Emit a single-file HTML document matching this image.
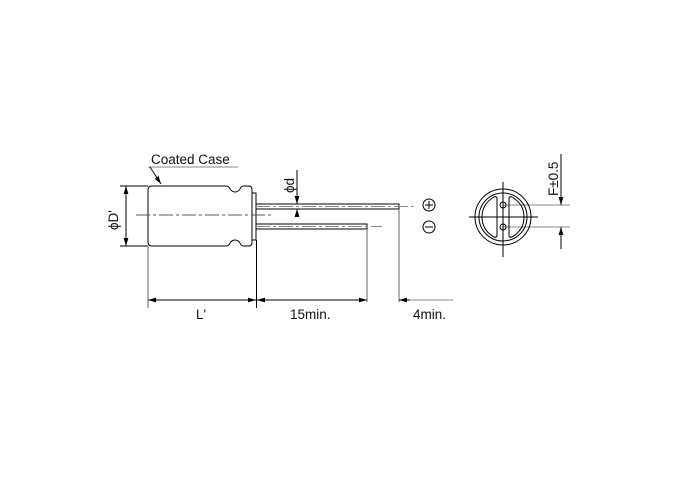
<!DOCTYPE html>
<html><head><style>
html,body{margin:0;padding:0;background:#fff;}
svg{display:block}
text{font-family:"Liberation Sans",Arial,sans-serif;font-size:13.5px;fill:#111}
</style></head><body>
<svg width="698" height="484" viewBox="0 0 698 484" xmlns="http://www.w3.org/2000/svg">
<defs>
<marker id="a" viewBox="0 0 10 6" refX="10" refY="3" markerWidth="8" markerHeight="5" orient="auto-start-reverse" markerUnits="userSpaceOnUse"><path d="M0,0 L10,3 L0,6 z" fill="#000"/></marker>
</defs>
<g fill="none" stroke="#000" stroke-width="1">
<path d="M152,186 H226 Q229,186 230,189 Q232,192 235,192 Q238,192 240,189 Q241,186 244,186 H249 Q252,186 252,190 V242 Q252,246 249,246 H244 Q241,246 240,243 Q238,240 235,240 Q232,240 230,243 Q229,246 226,246 H152 Q148,246 148,242 V190 Q148,186 152,186 Z"/>
<rect x="252" y="193" width="4" height="47"/>
<path d="M256,204 H399 V209 H256"/>
<path d="M256,224 H367 V229 H256"/>
</g>
<g stroke="#888" stroke-width="1" fill="none">
<line x1="136" y1="215" x2="274" y2="215" stroke="#555" stroke-dasharray="14,3,3,3"/>
<line x1="256" y1="206.5" x2="414" y2="206.5" stroke-dasharray="14,3,3,3"/>
<line x1="256" y1="226.5" x2="382" y2="226.5" stroke-dasharray="14,3,3,3"/>
<line x1="148" y1="167" x2="238" y2="167"/>
<line x1="402" y1="300" x2="453" y2="300"/>
<line x1="503" y1="205" x2="570" y2="205"/>
<line x1="503" y1="227" x2="570" y2="227"/>
</g>
<g stroke="#000" stroke-width="1" fill="none">
<line x1="150" y1="167" x2="161" y2="184" marker-end="url(#a)"/>
<line x1="120" y1="186" x2="148" y2="186"/>
<line x1="120" y1="246" x2="148" y2="246"/>
<line x1="126" y1="186" x2="126" y2="246" marker-start="url(#a)" marker-end="url(#a)"/>
<line x1="297" y1="170" x2="297" y2="204" marker-end="url(#a)"/>
<line x1="297" y1="217" x2="297" y2="209" marker-end="url(#a)"/>
<line x1="148" y1="246" x2="148" y2="308" stroke="#666"/>
<line x1="256.5" y1="240" x2="256.5" y2="308"/>
<line x1="367" y1="229" x2="367" y2="302" stroke="#666"/>
<line x1="399" y1="209" x2="399" y2="302" stroke="#666"/>
<line x1="148" y1="300" x2="256" y2="300" marker-start="url(#a)" marker-end="url(#a)"/>
<line x1="257" y1="300" x2="367" y2="300" marker-start="url(#a)" marker-end="url(#a)"/>
<line x1="410" y1="300" x2="399" y2="300" marker-end="url(#a)"/>
<circle cx="429" cy="205" r="6"/>
<line x1="425" y1="205" x2="433" y2="205"/><line x1="429" y1="201" x2="429" y2="209"/>
<circle cx="429" cy="227" r="6"/>
<line x1="425" y1="227" x2="433" y2="227"/>
<circle cx="503" cy="217" r="28"/>
<circle cx="503" cy="217" r="24"/>
<path d="M497,198 Q496,196 494,197 Q482,204 482,217 Q482,230 494,237 Q496,238 497,236 Z"/>
<path d="M509,198 Q510,196 512,197 Q524,204 524,217 Q524,230 512,237 Q510,238 509,236 Z"/>
<circle cx="503" cy="205" r="3"/>
<circle cx="503" cy="227" r="3"/>
<line x1="469" y1="217" x2="538" y2="217"/>
<line x1="503" y1="182" x2="503" y2="257"/>
<line x1="561" y1="154" x2="561" y2="205" marker-end="url(#a)"/>
<line x1="561" y1="249" x2="561" y2="227" marker-end="url(#a)"/>
</g>
<text x="151" y="164">Coated Case</text>
<text x="0" y="0" transform="translate(118,230) rotate(-90)">ϕD'</text>
<text x="0" y="0" transform="translate(294,193) rotate(-90)">ϕd</text>
<text x="0" y="0" transform="translate(558,196) rotate(-90)">F±0.5</text>
<text x="196" y="319">L'</text>
<text x="290" y="319">15min.</text>
<text x="413" y="319">4min.</text>
</svg>
</body></html>
